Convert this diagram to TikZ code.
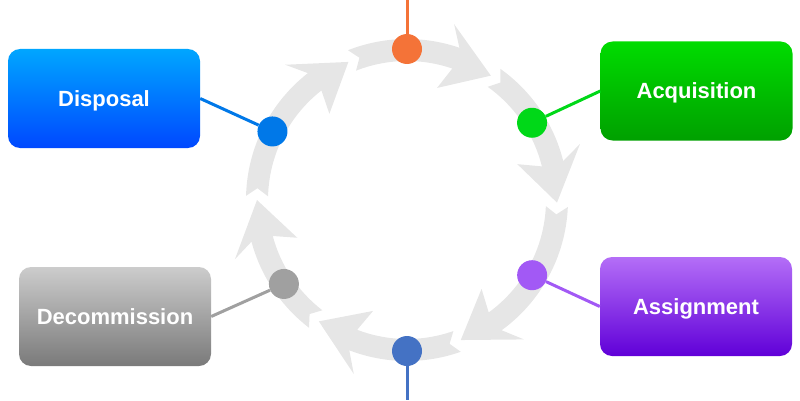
\documentclass[tikz,border=0pt]{standalone}
\usepackage{fontspec}
\setmainfont{Liberation Sans}
\usetikzlibrary{positioning}

\definecolor{ringgray}{HTML}{E6E6E6}
\definecolor{dispblue}{HTML}{0078E8}
\definecolor{topornge}{HTML}{F47338}
\definecolor{acqgreen}{HTML}{00D818}
\definecolor{asgpurple}{HTML}{A259F5}
\definecolor{botblue}{HTML}{4472C4}
\definecolor{decgray}{HTML}{A0A0A0}
% box gradients
\definecolor{disptop}{HTML}{00A6FF}
\definecolor{dispbot}{HTML}{0048FF}
\definecolor{acqtop}{HTML}{00DC00}
\definecolor{acqbot}{HTML}{00A000}
\definecolor{asgtop}{HTML}{B46EF7}
\definecolor{asgbot}{HTML}{6000D8}
\definecolor{dectop}{HTML}{CCCCCC}
\definecolor{decbot}{HTML}{7A7A7A}

% one grey ring arrow: tail angle, tip angle
\newcommand{\ringarrow}[2]{%
  \fill[ringgray] (#1:161pt) arc[start angle=#1, end angle=#2+15, radius=161pt]
    -- (#2+19:182pt) -- (#2:150pt) -- (#2+19:116pt) -- (#2+15:139pt)
    arc[start angle=#2+15, end angle=#1, radius=139pt] -- (#1-3:150pt) -- cycle;}

\tikzset{
  stagebox/.style={rounded corners=12pt, minimum width=192pt, minimum height=99pt,
    inner sep=0pt, text=white, font=\bfseries\fontsize{22}{26}\selectfont,
    text height=15.7pt, text depth=0pt},
  stagedot/.style={circle, fill=#1, minimum size=30pt, inner sep=0pt},
  stagelink/.style={draw=#1, line width=3pt},
}

\begin{document}
\begin{tikzpicture}[x=1pt,y=1pt]
\useasboundingbox (0,0) rectangle (800,400);

% ring
\begin{scope}[shift={(407,200)}]
\ringarrow{178.5}{113}
\ringarrow{111.5}{56}
\ringarrow{54.5}{-1}
\ringarrow{-2.5}{-69}
\ringarrow{-70.5}{-126}
\ringarrow{-127.5}{-180}

% dots
\node[stagedot=dispblue] (dotdisp) at (153:151pt) {};
\node[stagedot=topornge] (dottop) at (90:151pt) {};
\node[stagedot=acqgreen] (dotacq) at (31.7:147pt) {};
\node[stagedot=asgpurple] (dotasg) at (-31:146pt) {};
\node[stagedot=botblue] (dotbot) at (-90:151pt) {};
\node[stagedot=decgray] (dotdec) at (-145.7:149pt) {};
\end{scope}

% boxes
\node[stagebox, top color=disptop, bottom color=dispbot] (disposal) at (104,301.5) {Disposal};
\node[stagebox, top color=acqtop, bottom color=acqbot] (acquisition) at (696.5,309) {Acquisition};
\node[stagebox, top color=asgtop, bottom color=asgbot] (assignment) at (696,93.5) {Assignment};
\node[stagebox, top color=dectop, bottom color=decbot] (decommission) at (115,83.5) {Decommission};

% free ends
\coordinate (toptail) at (407,400);
\coordinate (bottail) at (407,0);

% links
\draw[stagelink=dispblue] (disposal.east) -- (dotdisp);
\draw[stagelink=topornge] (dottop) -- (toptail);
\draw[stagelink=acqgreen] (acquisition.west) -- (dotacq);
\draw[stagelink=asgpurple] (assignment.west) -- (dotasg);
\draw[stagelink=botblue] (dotbot) -- (bottail);
\draw[stagelink=decgray] (decommission.east) -- (dotdec);

\end{tikzpicture}
\end{document}
